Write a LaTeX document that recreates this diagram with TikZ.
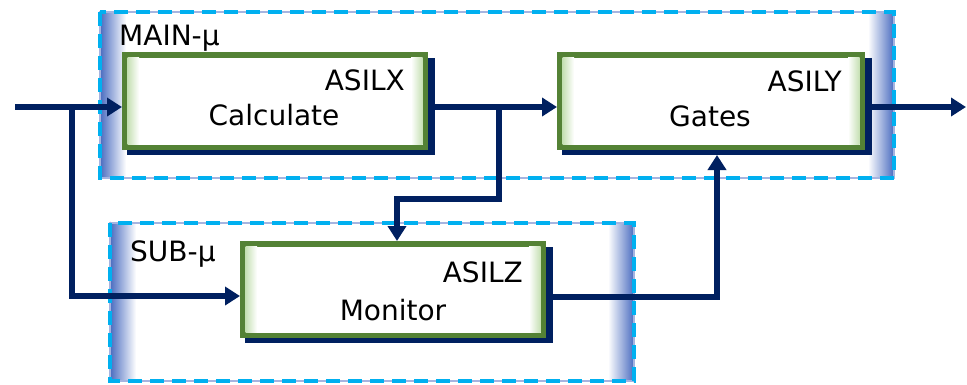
\documentclass[tikz,border=0pt]{standalone}
\usepackage{fontspec}
\setmainfont{DejaVu Sans}
\usetikzlibrary{arrows.meta,calc}

\definecolor{navy}{HTML}{002060}
\definecolor{grn}{HTML}{548235}
\definecolor{lightgreen}{HTML}{C5E0B3}
\definecolor{cyanD}{HTML}{00B0F0}
\definecolor{edgeblue}{HTML}{4A6CC0}
\definecolor{lavender}{HTML}{A6B4E0}

\pgfdeclarelayer{bg}
\pgfdeclarelayer{shd}
\pgfsetlayers{bg,shd,main}

\tikzset{
  unitbox/.style={draw=grn, line width=5.5pt, fill=white, minimum width=300.5pt,
    minimum height=92.5pt, inner sep=0pt},
  zone/.style={draw=none, inner sep=0pt, outer sep=0pt},
  flow/.style={draw=navy, line width=5.5pt, -{Triangle[length=15pt,width=18pt]}},
  lbl/.style={font=\fontsize{28}{33}\selectfont, inner sep=0pt, text=black},
}

\begin{document}
\begin{tikzpicture}[x=1pt,y=-1pt]
\useasboundingbox (0,0) rectangle (967,384);

% processor zones
\node[zone, minimum width=794pt, minimum height=166pt] (mainz) at (497,95) {};
\node[zone, minimum width=524pt, minimum height=158pt] (subz) at (372,302) {};

\begin{pgfonlayer}{bg}
  \foreach \z in {mainz,subz} {
    \fill[white] (\z.north west) rectangle (\z.south east);
    \shade[left color=edgeblue, right color=white]
      (\z.north west) rectangle ($(\z.south west)+(26,0)$);
    \shade[left color=white, right color=edgeblue]
      ($(\z.north east)+(-26,0)$) rectangle (\z.south east);
    \draw[lavender, line width=2pt] (\z.north west) rectangle (\z.south east);
    \draw[cyanD, line width=4.5pt, dash pattern=on 14pt off 8pt]
      (\z.north west) rectangle (\z.south east);
  }
\end{pgfonlayer}

\node[lbl, anchor=base west] (mainlbl) at (119,45) {MAIN-µ};
\node[lbl, anchor=base west] (sublbl) at (130,261) {SUB-µ};

% function blocks
\node[unitbox] (calc) at (275,101) {};
\node[unitbox, minimum width=302.5pt] (gates) at (711,101) {};
\node[unitbox, minimum height=91.5pt] (mon) at (393,289.5) {};

\foreach \b in {calc,gates,mon} {
  \shade[left color=lightgreen, right color=white]
    ($(\b.north west)+(5.5,5.5)$) rectangle ($(\b.south west)+(17,-5.5)$);
  \shade[left color=white, right color=lightgreen]
    ($(\b.north east)+(-17,5.5)$) rectangle ($(\b.south east)+(-5.5,-5.5)$);
}

\begin{pgfonlayer}{shd}
  \foreach \b in {calc,gates,mon}
    \fill[navy] ($(\b.north west)+(5,6)$) rectangle ($(\b.south east)+(7,5)$);
\end{pgfonlayer}

\node[lbl, anchor=base east] (calcasil) at (405,90) {ASILX};
\node[lbl, anchor=base] (calcname) at (274,125) {Calculate};
\node[lbl, anchor=base east] (gatesasil) at (842,91) {ASILY};
\node[lbl, anchor=base] (gatesname) at (710,126) {Gates};
\node[lbl, anchor=base east] (monasil) at (523,282) {ASILZ};
\node[lbl, anchor=base] (monname) at (393,320) {Monitor};

% signal lines
\coordinate (src) at (15,107);
\coordinate (fork) at (72,107);
\coordinate (tap) at (499,107);
\coordinate (jog) at (397,199);
\coordinate (monlvl) at (0,296);
\coordinate (monout) at (0,297);
\coordinate (gatesin) at (717,155);
\coordinate (sink) at (966,107);

\draw[flow] (src) -- (calc.west |- src);
\draw[flow] (fork) |- (mon.west |- monlvl);
\draw[flow] (calc.east |- src) -- (gates.west |- src);
\draw[flow] (tap) |- (jog) -- (jog |- mon.north);
\draw[flow] (gates.east |- src) -- (sink);
\draw[flow] (mon.east |- monout) -| (gatesin);
\end{tikzpicture}
\end{document}
